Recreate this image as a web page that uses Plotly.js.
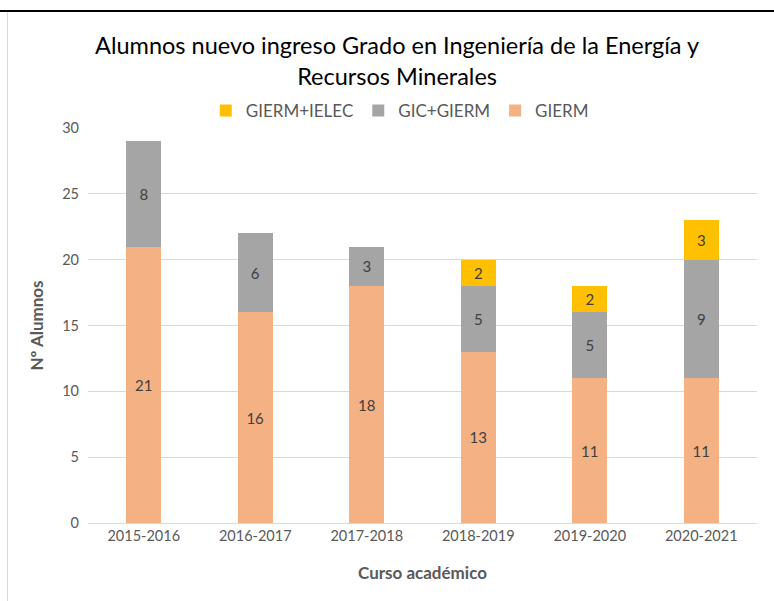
<!DOCTYPE html>
<html><head><meta charset="utf-8">
<script src="https://cdn.plot.ly/plotly-3.0.1.min.js"></script>
<style>
html,body{margin:0;padding:0;background:#fff;}
#wrap{position:relative;width:774px;height:601px;overflow:hidden;}
#chart{position:absolute;left:0;top:0;width:774px;height:601px;}
#topline{position:absolute;left:0;top:10px;width:774px;height:2px;background:#000;z-index:5;}
#leftline{position:absolute;left:7px;top:12px;width:1px;height:589px;background:#d9d9d9;z-index:5;}
</style></head>
<body><div id="wrap"><div id="chart"></div><div id="topline"></div><div id="leftline"></div></div>
<script>
const categories = ['2015-2016','2016-2017','2017-2018','2018-2019','2019-2020','2020-2021'];
const giermValues = [21,16,18,13,11,11];
const gicGiermValues = [8,6,3,5,5,9];
const giermIelecValues = [null,null,null,2,2,3];
const seriesNames = ['GIERM','GIC+GIERM','GIERM+IELEC'];
const seriesColors = ['#F4B183','#A5A5A5','#FFC000'];
const yTicks = [0,5,10,15,20,25,30];

const font = 'Lato, "Open Sans", sans-serif';
function mk(vals, i){
  return {
    type:'bar', x:categories, y:vals, name:seriesNames[i],
    marker:{color:seriesColors[i]},
    text: vals.map(v => v==null ? '' : String(v)),
    textposition:'inside', insidetextanchor:'middle',
    textfont:{family:font, size:15, color:'#404040'},
    hoverinfo:'y+name'
  };
}
const data = [mk(giermValues,0), mk(gicGiermValues,1), mk(giermIelecValues,2)];
const layout = {
  width:774, height:601,
  margin:{l:88, r:17, t:128, b:78},
  paper_bgcolor:'#fff', plot_bgcolor:'#fff',
  barmode:'stack', bargap:0.686,
  font:{family:font, color:'#595959'},
  title:{text:'Alumnos nuevo ingreso Grado en Ingeniería de la Energía y<br>Recursos Minerales',
         x:0.513, xanchor:'center', y:1-54/601, yanchor:'middle',
         font:{family:font, size:23.5, color:'#000'}},
  legend:{orientation:'h', traceorder:'reversed', x:0.466, xanchor:'center', y:1.043, yanchor:'middle',
          font:{family:font, size:17, color:'#595959'}, itemwidth:30},
  xaxis:{showgrid:false, showline:true, linecolor:'#d9d9d9', linewidth:1, ticks:'',
         tickfont:{family:font, size:14.5, color:'#595959'},
         title:{text:'Curso académico', font:{family:font, size:17, color:'#595959', weight:'bold'}, standoff:23}},
  yaxis:{range:[0,30], tickvals:yTicks, showgrid:true, gridcolor:'#d9d9d9', zeroline:false, showline:false, ticks:'',
         ticklabelstandoff:8,
         tickfont:{family:font, size:14.5, color:'#595959'},
         title:{text:'Nº Alumnos', font:{family:font, size:17, color:'#595959', weight:'bold'}, standoff:14}}
};
Plotly.newPlot('chart', data, layout, {displayModeBar:false, staticPlot:true});
</script></body></html>
